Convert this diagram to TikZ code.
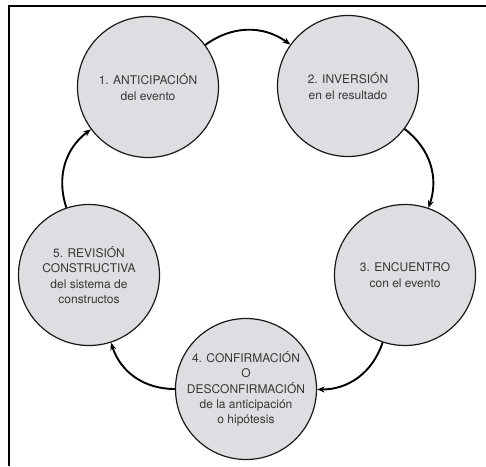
\documentclass[tikz,border=0pt]{standalone}
\usepackage{fontspec}
\setmainfont{TeX Gyre Heros}
\usetikzlibrary{arrows.meta}
\definecolor{circfill}{RGB}{221,222,225}
\definecolor{txtgray}{RGB}{55,55,55}
\begin{document}
\begin{tikzpicture}[x=1pt,y=-1pt,
  stage/.style={circle, draw=black!90, line width=1.2pt, fill=circfill,
    minimum size=141pt, inner sep=0pt, align=center, text=txtgray,
    font=\fontsize{12}{15.3}\selectfont},
  flow/.style={line width=1.9pt, -{Stealth[length=7.5pt,width=6pt]}, bend left=36}]
\useasboundingbox (0,0) rectangle (486,466);
\draw[line width=2pt] (9,466) -- (9,6) -- (486,6);
\node[stage] (n1) at (148,87) {1. ANTICIPACIÓN\\del evento};
\node[stage] (n2) at (348,86) {2. INVERSIÓN\\en el resultado};
\node[stage] (n3) at (405,275) {3. ENCUENTRO\\con el evento};
\node[stage] (n4) at (246,389) {4. CONFIRMACIÓN\\O\\DESCONFIRMACIÓN\\de la anticipación\\o hipótesis};
\node[stage] (n5) at (89,275) {5. REVISIÓN\\CONSTRUCTIVA\\del sistema de\\constructos};
\draw[flow] (n1) to (n2);
\draw[flow] (n2) to (n3);
\draw[flow] (n3) to (n4);
\draw[flow] (n4) to (n5);
\draw[flow] (n5) to (n1);
\end{tikzpicture}
\end{document}
